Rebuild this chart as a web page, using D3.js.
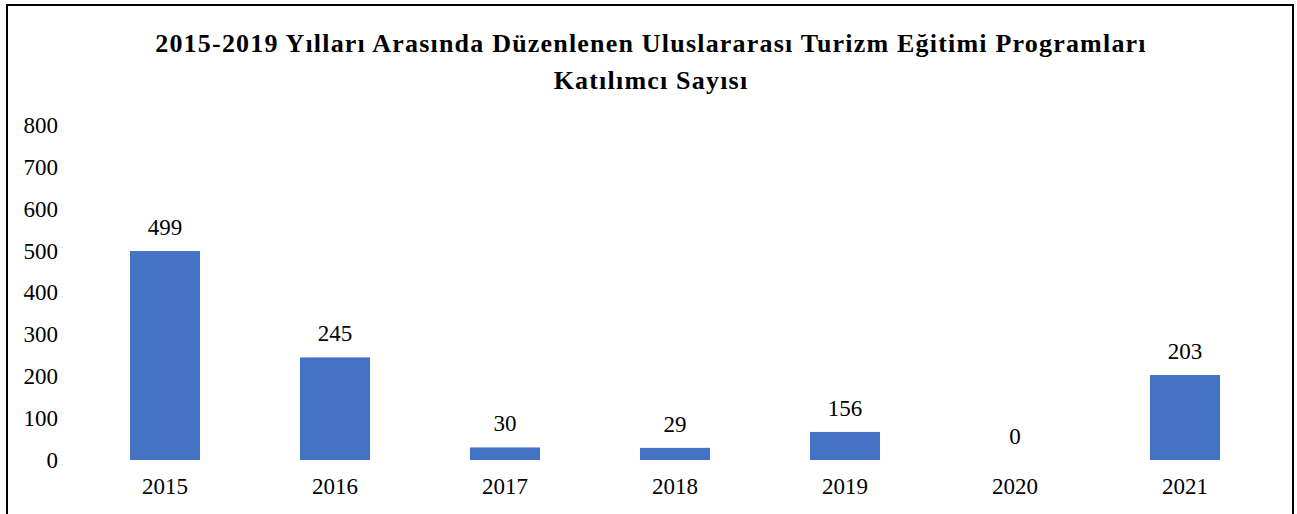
<!DOCTYPE html>
<html>
<head>
<meta charset="utf-8">
<script src="https://cdn.jsdelivr.net/npm/d3@7"></script>
<style>
  body { margin: 0; background: #fff; }
  svg { display: block; }
  svg text { font-family: "Liberation Serif", "Times New Roman", Times, "DejaVu Serif", serif; }
</style>
</head>
<body>
<div id="chart"></div>
<script>
// data
const years = ["2015", "2016", "2017", "2018", "2019", "2020", "2021"];
const barValues = [499, 245, 30, 29, 67, 0, 203]; // heights as drawn
const labelTexts = ["499", "245", "30", "29", "156", "0", "203"]; // labels as printed
const yTicks = [0, 100, 200, 300, 400, 500, 600, 700, 800];
const titleLines = [
  "2015-2019 Yılları Arasında Düzenlenen Uluslararası Turizm Eğitimi Programları",
  "Katılımcı Sayısı"
];

const W = 1297, H = 514;

const svg = d3.select("#chart").append("svg")
  .attr("width", W)
  .attr("height", H);

// outer frame (bottom edge runs off the picture)
svg.append("rect")
  .attr("x", 7).attr("y", 5)
  .attr("width", 1286).attr("height", 520)
  .attr("fill", "#fff")
  .attr("stroke", "#000")
  .attr("stroke-width", 2);

// title - glyphs in the reference are a bit wide, so add some spacing
svg.append("g").selectAll("text")
  .data(titleLines)
  .join("text")
  .attr("x", 651)
  .attr("y", (d, i) => 52 + i * 37)
  .attr("text-anchor", "middle")
  .style("font-weight", "bold")
  .style("font-size", "26px")
  .style("letter-spacing", "1.2px")
  .text(d => d);

const x = d3.scaleBand()
  .domain(years)
  .range([80, 1270])
  .paddingInner(0.588)
  .paddingOuter(0.294);

const y = d3.scaleLinear()
  .domain([0, 800])
  .range([460, 125]);

// y axis labels, no line or ticks
const yAxis = svg.append("g")
  .attr("transform", "translate(58,0)")
  .call(d3.axisLeft(y).tickValues(yTicks).tickSize(0).tickPadding(0));
yAxis.attr("font-family", null).attr("font-size", null);
yAxis.select(".domain").remove();
yAxis.selectAll("text")
  .style("font-size", "23px")
  .attr("fill", "#000");

// x axis labels
const xAxis = svg.append("g")
  .attr("transform", "translate(0,478)")
  .call(d3.axisBottom(x).tickSize(0).tickPadding(0));
xAxis.attr("font-family", null).attr("font-size", null);
xAxis.select(".domain").remove();
xAxis.selectAll("text")
  .style("font-size", "23px")
  .attr("fill", "#000");

// bars
svg.append("g").selectAll("rect")
  .data(years)
  .join("rect")
  .attr("x", d => x(d))
  .attr("y", (d, i) => y(barValues[i]))
  .attr("width", x.bandwidth())
  .attr("height", (d, i) => y(0) - y(barValues[i]))
  .attr("fill", "#4472C4");

// value labels
svg.append("g").selectAll("text")
  .data(years)
  .join("text")
  .attr("x", d => x(d) + x.bandwidth() / 2)
  .attr("y", (d, i) => y(barValues[i]) - 16)
  .attr("text-anchor", "middle")
  .style("font-size", "23px")
  .attr("fill", "#000")
  .text((d, i) => labelTexts[i]);
</script>
</body>
</html>
